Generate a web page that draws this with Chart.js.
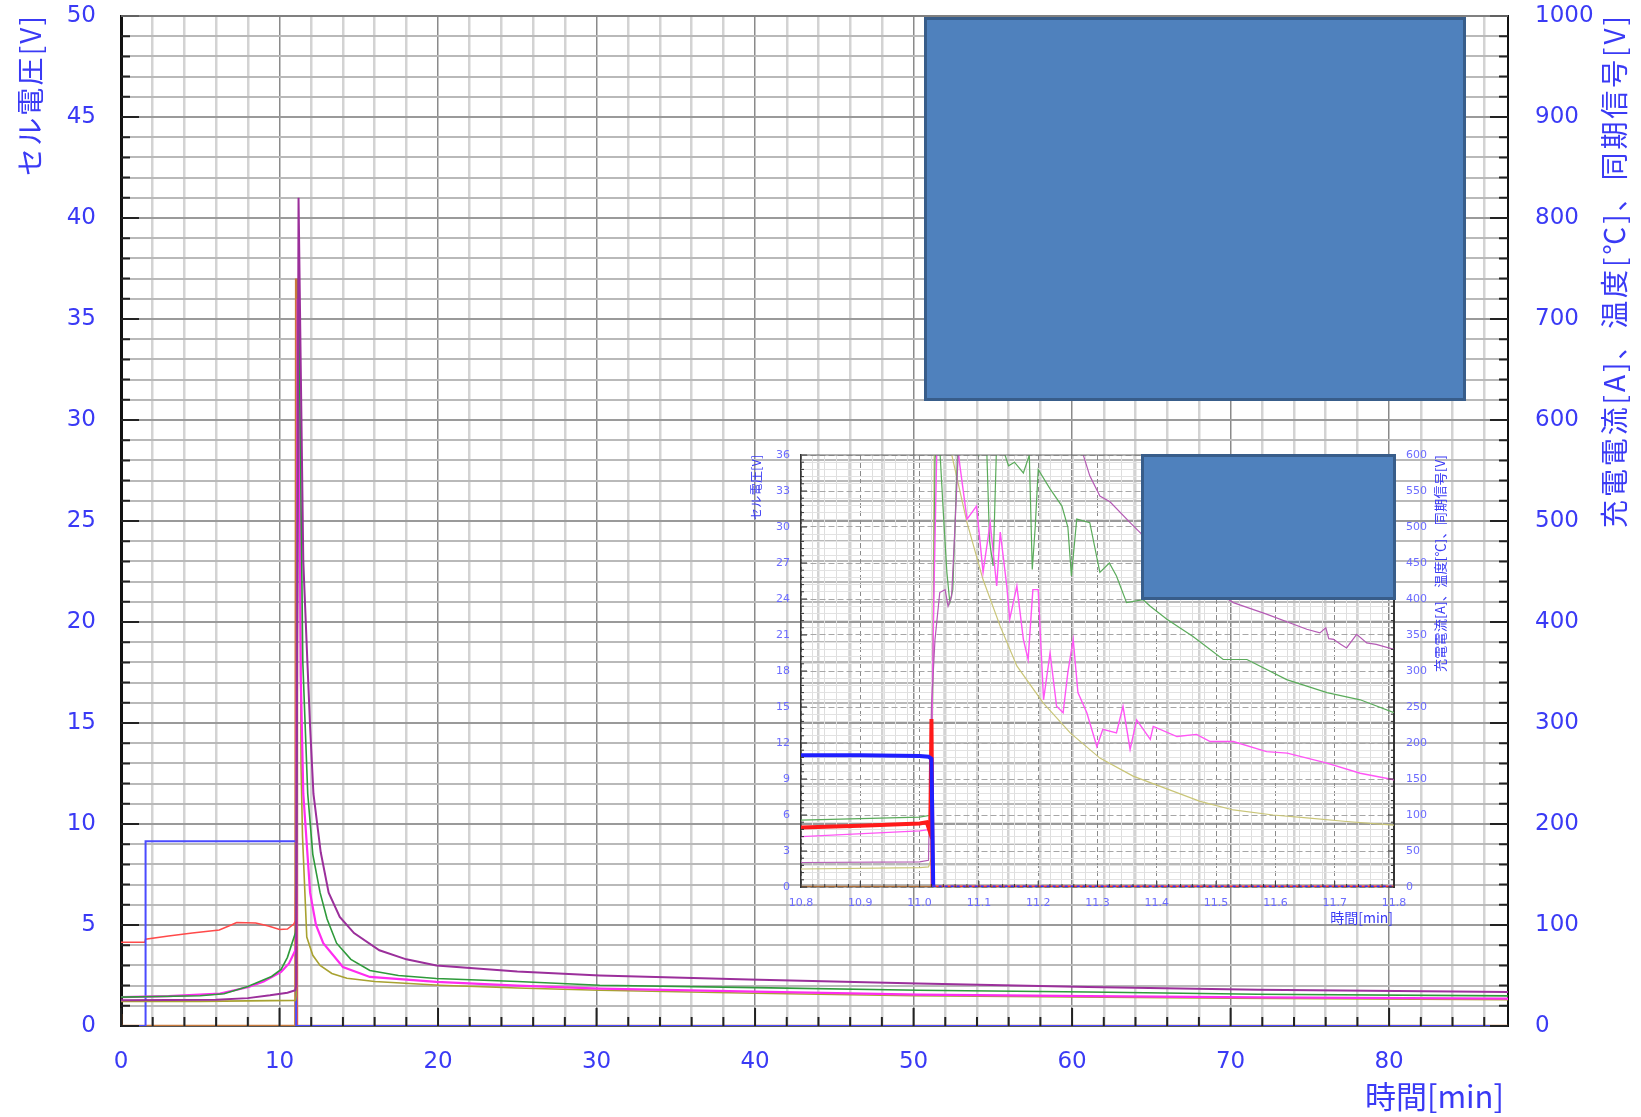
<!DOCTYPE html>
<html>
<head>
<meta charset="utf-8">
<script src="https://cdn.jsdelivr.net/npm/chart.js@4.4.1/dist/chart.umd.min.js"></script>
<style>
  html, body { margin: 0; padding: 0; background: #fff; }
  #wrap { position: relative; width: 1641px; height: 1117px; overflow: hidden; }
  #main { position: absolute; left: 0; top: 0; width: 1641px; height: 1117px; }
  #inset { position: absolute; left: 740px; top: 440px; width: 720px; height: 500px; }
  .box { position: absolute; background: #4f81bd; border: 3px solid #385d8a; box-sizing: border-box; }
</style>
</head>
<body>
<div id="wrap">
  <div id="main"><canvas id="mainChart"></canvas></div>
  <div id="inset"><canvas id="insetChart"></canvas></div>
  <div class="box" style="left:924px;top:17px;width:542px;height:384px"></div>
  <div class="box" style="left:1141px;top:454px;width:255px;height:146px"></div>
</div>
<script>
// ─── DATA: main chart (time in min) ──────────────────────────────────────────
// cell voltage [V] (left axis)
const voltT = [0, 1.5, 1.55, 3, 4.5, 6.2, 6.8, 7.3, 8.5, 9.3, 10.0, 10.5, 10.9, 11.0, 11.05, 11.1, 87.5];
const voltV = [4.15, 4.15, 4.3, 4.45, 4.6, 4.75, 4.95, 5.12, 5.1, 4.95, 4.78, 4.8, 5.05, 5.2, 9.0, 0, 0];
// charge current [A] (right axis)
const currT = [0, 1.55, 1.55, 11.05, 11.05, 87.5];
const currV = [0, 0, 183, 183, 0, 0];
// temperatures / signals (right axis)
const purpleT = [0, 6, 8, 9.4, 10.5, 11.0, 11.05, 11.2, 11.5, 11.76, 11.93, 12.14, 12.6, 13.1, 13.8, 14.7, 16.3, 18, 19.9, 25, 30.2, 39.6, 50.3, 61, 71.7, 87.5];
const purpleV = [25.4, 26, 27.6, 30.4, 33, 35.4, 40, 820, 460, 360, 296, 230, 172, 132, 108, 92, 75, 66, 60, 54, 50, 46, 42, 38.6, 36, 33.6];
const greenT = [0, 5, 6.5, 8, 9.5, 10.1, 10.5, 11.0, 11.05, 11.2, 11.47, 11.78, 12.1, 12.56, 13.0, 13.6, 14.5, 15.7, 17.5, 19.9, 25, 30.2, 40, 50.3, 61, 71.7, 87.5];
const greenV = [28.6, 30, 32, 39, 49, 56, 68, 92, 100, 740, 360, 230, 170, 132, 106, 82, 66, 55, 50, 47, 44, 40.4, 38, 35.4, 33.6, 31.4, 29.8];
const magT = [0, 3, 6.25, 8.05, 9, 10.1, 10.6, 11.0, 11.05, 11.15, 11.25, 11.34, 11.5, 11.93, 12.3, 12.76, 14.0, 15.7, 19.9, 25, 30.2, 40, 50.3, 61, 71.7, 87.5];
const magV = [28.6, 29.6, 32, 38.6, 44, 53.6, 62, 75, 80, 720, 580, 346, 230, 132, 100, 82, 58.4, 48.6, 43.6, 40, 37, 34, 31, 29.6, 28.4, 27.2];
const oliveT = [0, 5, 11.0, 11.05, 11.15, 11.3, 11.36, 11.45, 11.72, 12.1, 12.56, 13.3, 14.25, 16, 20.1, 25, 30.2, 40, 50, 70, 87.5];
const oliveV = [24.4, 24.4, 25.4, 30, 600, 480, 256, 188, 88, 70, 60, 52, 47.2, 44, 40.4, 37.6, 35.4, 32.4, 30, 27.6, 26];
const brownT = [0, 0, 0.1, 11.0, 11.05, 11.1, 87.5];
const brownV = [12, 0, 0, 0, 740, 0, 0];

// ─── DATA: inset (10.8–11.8 min) ─────────────────────────────────────────────
const insVoltT = [10.8, 10.9, 11.0, 11.012, 11.018, 11.02, 11.022];
const insVoltV = [4.95, 5.1, 5.3, 5.4, 4.5, 14, 0];
const insCurrT = [10.8, 10.9, 11.0, 11.015, 11.02, 11.023];
const insCurrV = [183, 183, 182, 181, 178, 0];
const insZeroT = [11.022, 11.8];
const insZeroV = [0, 0];
const insGreenT = [10.8, 11.0, 11.02, 11.026, 11.032, 11.04, 11.046, 11.051, 11.056, 11.065, 11.08, 11.1, 11.112, 11.118, 11.124, 11.13, 11.14, 11.15, 11.16, 11.175, 11.185, 11.19, 11.195, 11.2, 11.22, 11.24, 11.25, 11.256, 11.265, 11.287, 11.304, 11.32, 11.332, 11.349, 11.377, 11.389, 11.417, 11.461, 11.512, 11.552, 11.619, 11.687, 11.743, 11.8];
const insGreenV = [93, 97, 100, 594, 640, 520, 437, 395, 413, 630, 650, 600, 640, 480, 446, 620, 610, 585, 590, 575, 600, 441, 500, 580, 553, 529, 500, 432, 511, 506, 437, 450, 432, 395, 399, 390, 372, 348, 316, 316, 288, 270, 260, 242];
const insMagT = [10.8, 11.0, 11.018, 11.024, 11.03, 11.06, 11.068, 11.08, 11.096, 11.107, 11.119, 11.13, 11.136, 11.147, 11.152, 11.164, 11.175, 11.183, 11.191, 11.2, 11.209, 11.22, 11.231, 11.242, 11.25, 11.259, 11.267, 11.282, 11.299, 11.309, 11.332, 11.343, 11.355, 11.366, 11.389, 11.394, 11.434, 11.467, 11.49, 11.529, 11.585, 11.62, 11.687, 11.743, 11.8];
const insMagV = [70, 78, 80, 400, 650, 640, 585, 511, 529, 437, 506, 418, 493, 418, 372, 418, 344, 316, 413, 413, 260, 325, 251, 242, 298, 344, 270, 242, 195, 219, 214, 251, 191, 232, 205, 223, 209, 212, 202, 202, 188, 186, 172, 158, 149];
const insOliveT = [10.8, 11.0, 11.015, 11.02, 11.025, 11.054, 11.08, 11.107, 11.136, 11.164, 11.208, 11.254, 11.304, 11.36, 11.389, 11.473, 11.529, 11.596, 11.653, 11.72, 11.8];
const insOliveV = [25, 27, 28, 40, 650, 601, 506, 427, 362, 307, 256, 214, 179, 154, 145, 119, 107, 100, 96, 91, 86];
const insPurpleT = [10.8, 11.0, 11.015, 11.02, 11.026, 11.034, 11.043, 11.048, 11.054, 11.06, 11.065, 11.07, 11.27, 11.276, 11.287, 11.304, 11.321, 11.355, 11.377, 11.445, 11.529, 11.585, 11.653, 11.675, 11.685, 11.69, 11.698, 11.71, 11.72, 11.737, 11.754, 11.77, 11.8];
const insPurpleV = [34, 35, 37, 251, 344, 409, 413, 390, 404, 506, 600, 650, 650, 600, 571, 543, 535, 506, 488, 441, 395, 379, 358, 353, 360, 345, 344, 337, 332, 351, 339, 337, 330];
const insBrownT = [10.8, 11.02];
const insBrownV = [0, 0];

// ─── AXIS LABELS ─────────────────────────────────────────────────────────────
const xLabelStep = 10;
const yLeftLabelStep = 5;
const yRightLabelStep = 100;
const leftTitle = 'セル電圧[V]';
const rightTitle = '充電電流[A]、温度[℃]、同期信号[V]';
const xTitle = '時間[min]';

const TXT = '#3a3af5';
const pts = (t, v) => t.map((x, i) => ({ x, y: v[i] }));
const near = (v, step) => Math.abs(v / step - Math.round(v / step)) < 1e-6;

function line(data, color, width, axis, extra) {
  return Object.assign({ data, borderColor: color, borderWidth: width, yAxisID: axis,
    pointRadius: 0, fill: false, tension: 0 }, extra || {});
}

// fixed axis sizes, no label overflow padding
const fixV = w => s => { s.width = w; s.paddingTop = 0; s.paddingBottom = 0; };
const fixH = h => s => { s.height = h; s.paddingLeft = 0; s.paddingRight = 0; };

// draws inward tick marks and the axis titles
function decor(o) {
  return {
    id: 'decor',
    afterDraw(chart) {
      const { ctx, chartArea: a, scales } = chart;
      ctx.save();
      ctx.strokeStyle = o.tickColor;
      ctx.lineWidth = o.tickWidth;
      ctx.beginPath();
      scales.x.ticks.forEach(t => {
        const p = scales.x.getPixelForValue(t.value);
        const L = near(t.value, o.xMajor) ? o.long : o.short;
        ctx.moveTo(p, a.bottom); ctx.lineTo(p, a.bottom - L);
      });
      scales.y.ticks.forEach(t => {
        const p = scales.y.getPixelForValue(t.value);
        const L = near(t.value, o.yMajor) ? o.long : o.short;
        ctx.moveTo(a.left, p); ctx.lineTo(a.left + L, p);
      });
      scales.y2.ticks.forEach(t => {
        const p = scales.y2.getPixelForValue(t.value);
        const L = near(t.value, o.y2Major) ? o.long : o.short;
        ctx.moveTo(a.right, p); ctx.lineTo(a.right - L, p);
      });
      ctx.stroke();
      ctx.strokeStyle = o.topColor; ctx.lineWidth = o.topWidth;
      ctx.beginPath(); ctx.moveTo(a.left, a.top); ctx.lineTo(a.right, a.top); ctx.stroke();

      ctx.fillStyle = TXT;
      o.titles.forEach(tt => {
        ctx.save();
        ctx.font = tt.font;
        ctx.letterSpacing = '0px';
        if (tt.vertical) {
          const w = ctx.measureText(tt.text).width;
          const n = [...tt.text].length;
          if (tt.len > w) ctx.letterSpacing = ((tt.len - w) / (n - 1)).toFixed(2) + 'px';
          ctx.translate(tt.x, tt.y + tt.len);
          ctx.rotate(-Math.PI / 2);
          ctx.textAlign = 'left';
          ctx.textBaseline = 'middle';
          ctx.fillText(tt.text, 0, 0);
        } else {
          ctx.textAlign = 'right';
          ctx.textBaseline = 'middle';
          ctx.fillText(tt.text, tt.x, tt.y);
        }
        ctx.restore();
      });
      ctx.restore();
    }
  };
}

// ─── MAIN CHART ──────────────────────────────────────────────────────────────
new Chart(document.getElementById('mainChart'), {
  type: 'line',
  data: {
    datasets: [
      line(pts(purpleT, purpleV), '#9b2f9b', 2, 'y2'),
      line(pts(greenT, greenV), '#2e9a3a', 1.6, 'y2'),
      line(pts(magT, magV), '#ff2cf0', 2.2, 'y2'),
      line(pts(oliveT, oliveV), '#a8a230', 1.6, 'y2'),
      line(pts(currT, currV), '#4b4bff', 2, 'y2'),
      line(pts(voltT, voltV), '#ff4a4a', 1.5, 'y'),
      line(pts(brownT, brownV), '#c87a3c', 2.5, 'y2')
    ]
  },
  options: {
    responsive: true,
    maintainAspectRatio: false,
    animation: false,
    events: [],
    layout: { padding: { top: 16, left: 0, right: 0, bottom: 0 } },
    plugins: { legend: { display: false }, tooltip: { enabled: false } },
    scales: {
      x: {
        type: 'linear', min: 0, max: 87.5,
        afterFit: fixH(91),
        ticks: {
          stepSize: 2, includeBounds: false, autoSkip: false, maxRotation: 0, padding: 22,
          color: TXT, font: { family: 'DejaVu Sans', size: 23 },
          callback: v => near(v, xLabelStep) ? v : ''
        },
        grid: {
          drawTicks: false,
          color: c => c.tick && near(c.tick.value, 10) ? '#8a8a8a' : '#d3d3d3',
          lineWidth: c => c.tick && near(c.tick.value, 10) ? 1.5 : 2.5
        },
        border: { color: '#555', width: 2 }
      },
      y: {
        position: 'left', min: 0, max: 50,
        afterFit: fixV(121),
        ticks: {
          stepSize: 1, autoSkip: false, padding: 25,
          color: TXT, font: { family: 'DejaVu Sans', size: 23 },
          callback: v => near(v, yLeftLabelStep) ? v : ''
        },
        grid: {
          drawTicks: false,
          color: c => c.tick && near(c.tick.value, 5) ? '#9a9a9a' : '#b9b9b9',
          lineWidth: 2
        },
        border: { color: '#111', width: 3 }
      },
      y2: {
        position: 'right', min: 0, max: 1000,
        afterFit: fixV(133),
        ticks: {
          stepSize: 20, autoSkip: false, padding: 27,
          color: TXT, font: { family: 'DejaVu Sans', size: 23 },
          callback: v => near(v, yRightLabelStep) ? v : ''
        },
        grid: { drawTicks: false, drawOnChartArea: false },
        border: { color: '#111', width: 2 }
      }
    }
  },
  plugins: [decor({
    tickColor: '#222', tickWidth: 2, short: 9, long: 18,
    xMajor: 10, yMajor: 5, y2Major: 100,
    topColor: '#777', topWidth: 1.5,
    titles: [
      { text: leftTitle, vertical: true, x: 30, y: 16, len: 160, font: '28px "Noto Sans CJK JP"' },
      { text: rightTitle, vertical: true, x: 1614, y: 16, len: 512, font: '28px "Noto Sans CJK JP"' },
      { text: xTitle, x: 1504, y: 1096, font: '31px "Noto Sans CJK JP"' }
    ]
  })]
});

// ─── INSET CHART ─────────────────────────────────────────────────────────────
const ITXT = '#6c6cff';
new Chart(document.getElementById('insetChart'), {
  type: 'line',
  data: {
    datasets: [
      line(pts(insZeroT, insZeroV), '#3030ff', 3, 'y2', { borderDash: [3, 3] }),
      line(pts(insZeroT, insZeroV), '#ff3030', 3, 'y2'),
      line(pts(insCurrT, insCurrV), '#1f1fff', 4, 'y2'),
      line(pts(insVoltT, insVoltV), '#ff1a1a', 4, 'y'),
      line(pts(insPurpleT, insPurpleV), '#b45ab4', 1.2, 'y2'),
      line(pts(insMagT, insMagV), '#ff55f5', 1.4, 'y2'),
      line(pts(insGreenT, insGreenV), '#5aab5a', 1.2, 'y2'),
      line(pts(insOliveT, insOliveV), '#c9c577', 1.2, 'y2'),
      line(pts(insBrownT, insBrownV), '#b0703a', 2.5, 'y2')
    ]
  },
  options: {
    responsive: true,
    maintainAspectRatio: false,
    animation: false,
    events: [],
    layout: { padding: { top: 15, left: 0, right: 0, bottom: 0 } },
    plugins: { legend: { display: false }, tooltip: { enabled: false } },
    scales: {
      x: {
        type: 'linear', min: 10.8, max: 11.8,
        afterFit: fixH(53),
        ticks: {
          stepSize: 0.02, autoSkip: false, maxRotation: 0, padding: 10,
          color: ITXT, font: { family: 'DejaVu Sans', size: 11 },
          callback: v => near(v, 0.1) ? v.toFixed(1) : ''
        },
        grid: {
          drawTicks: false,
          color: c => c.tick && near(c.tick.value, 0.1) ? '#8a8a8a' : '#dedede',
          lineWidth: 1
        },
        border: { color: '#555', width: 1.5, dash: c => c.tick && near(c.tick.value, 0.1) ? [5, 3] : [] }
      },
      y: {
        position: 'left', min: 0, max: 36,
        afterFit: fixV(61),
        ticks: {
          stepSize: 0.6, autoSkip: false, padding: 11,
          color: ITXT, font: { family: 'DejaVu Sans', size: 11 },
          callback: v => near(v, 3) ? Math.round(v) : ''
        },
        grid: {
          drawTicks: false,
          color: c => c.tick && near(c.tick.value, 3) ? '#a6a6a6' : '#e2e2e2',
          lineWidth: 1
        },
        border: { color: '#333', width: 1.5, dash: c => c.tick && near(c.tick.value, 3) ? [6, 3] : [] }
      },
      y2: {
        position: 'right', min: 0, max: 600,
        afterFit: fixV(66),
        ticks: {
          stepSize: 10, autoSkip: false, padding: 12,
          color: ITXT, font: { family: 'DejaVu Sans', size: 11 },
          callback: v => near(v, 50) ? v : ''
        },
        grid: { drawTicks: false, drawOnChartArea: false },
        border: { color: '#333', width: 2 }
      }
    }
  },
  plugins: [decor({
    tickColor: '#333', tickWidth: 1, short: 3, long: 6,
    xMajor: 0.1, yMajor: 3, y2Major: 50,
    topColor: '#666', topWidth: 1,
    titles: [
      { text: leftTitle, vertical: true, x: 16, y: 15, len: 65, font: '12px "Noto Sans CJK JP"' },
      { text: rightTitle, vertical: true, x: 700, y: 15, len: 217, font: '13px "Noto Sans CJK JP"' },
      { text: xTitle, x: 653, y: 478, font: '14px "Noto Sans CJK JP"' }
    ]
  })]
});
</script>
</body>
</html>
